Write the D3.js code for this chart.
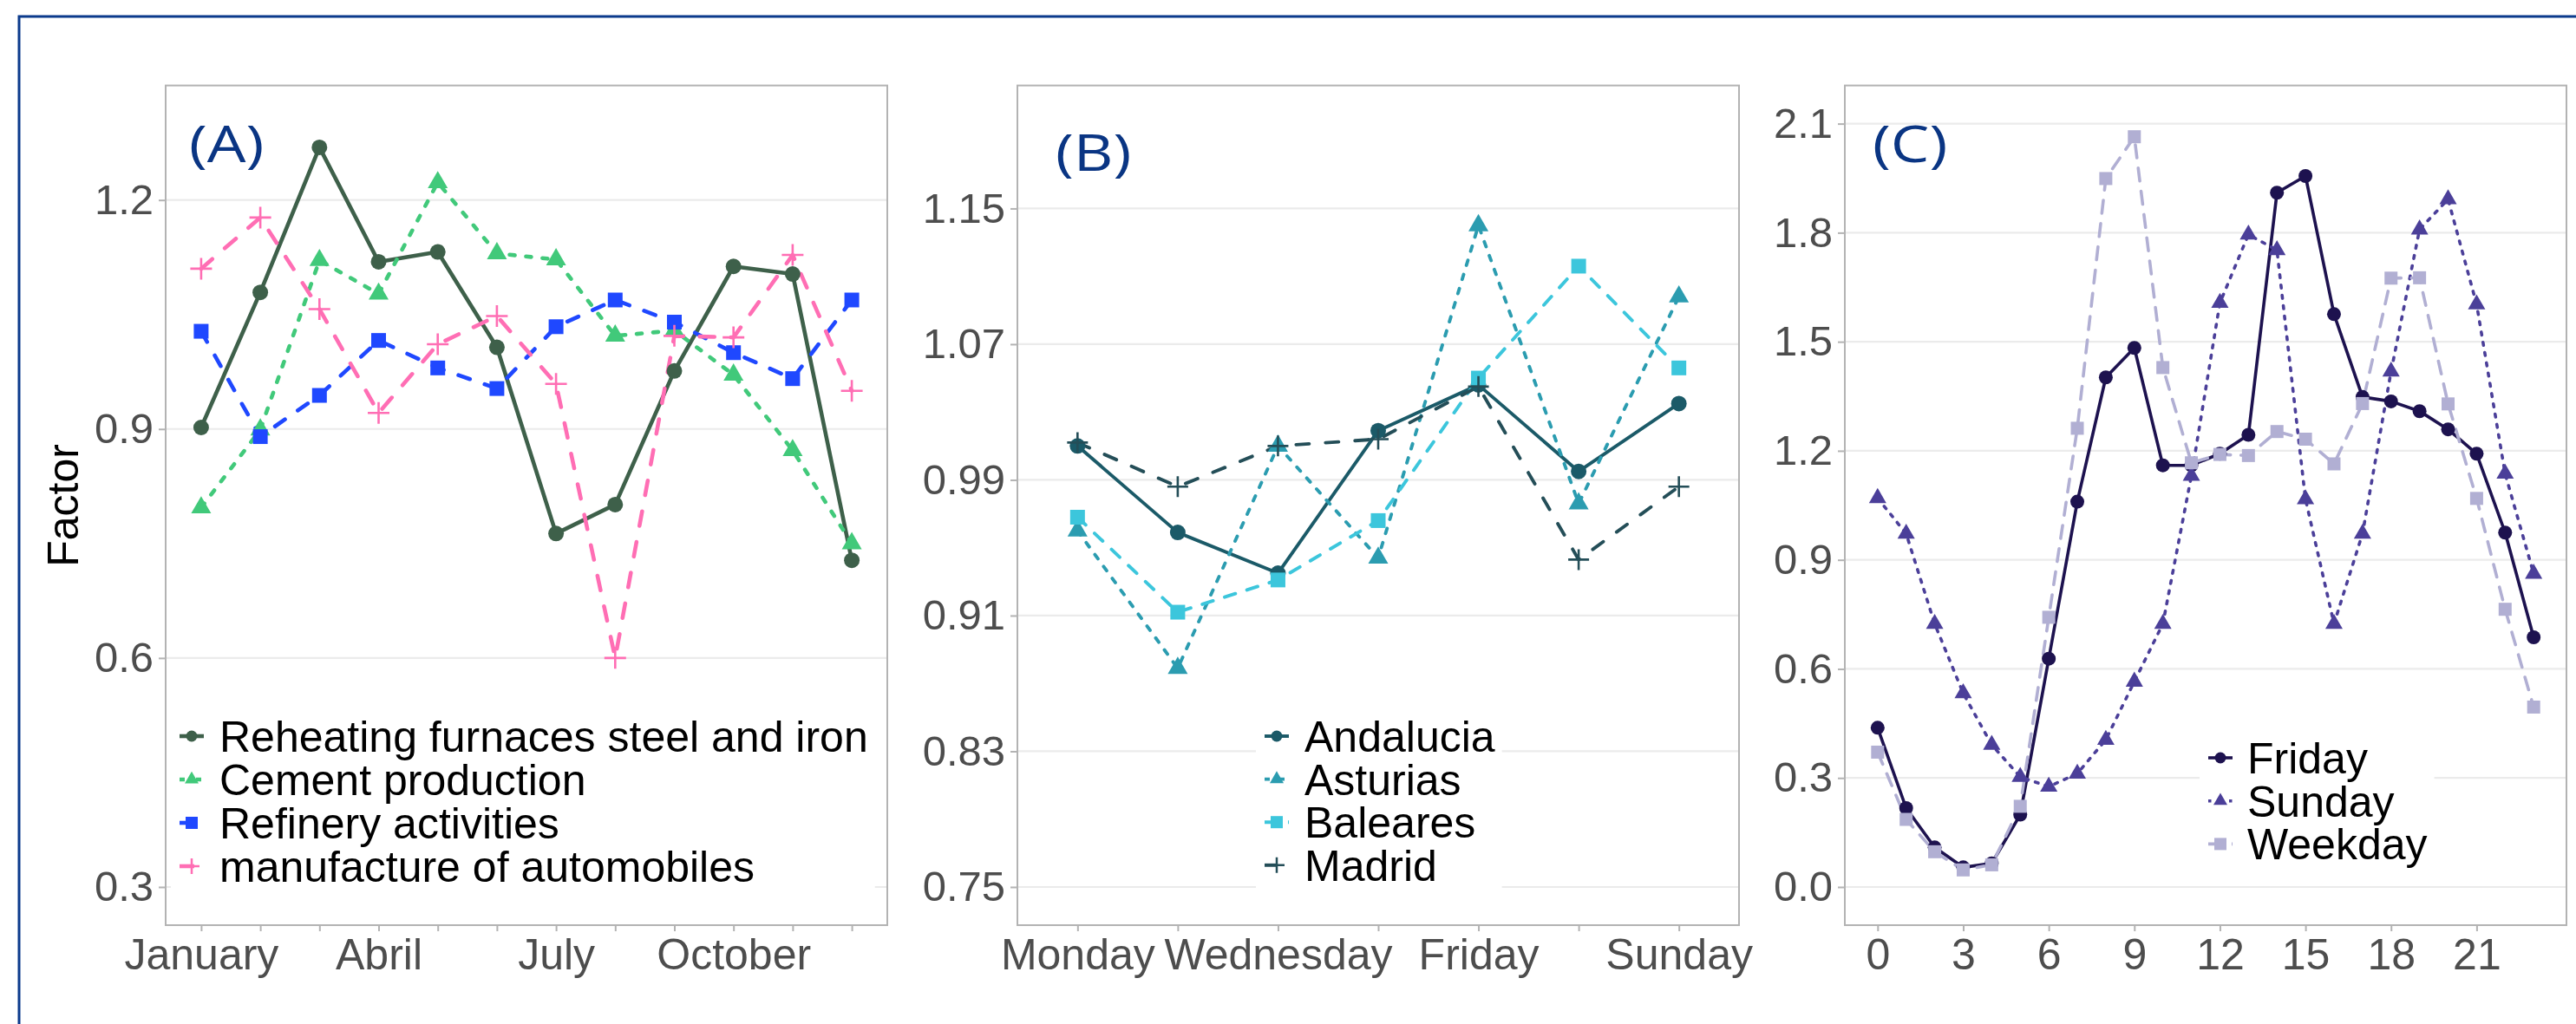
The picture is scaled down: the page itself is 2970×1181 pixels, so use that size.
<!DOCTYPE html>
<html><head><meta charset="utf-8">
<script src="https://cdn.jsdelivr.net/npm/d3@7"></script>
<style>body{margin:0;background:#fff}</style>
</head><body>
<svg id="chart" width="2970" height="1181"></svg>
<script>
// ---------- DATA ----------
const months = ["January","February","March","April","May","June","July","August","September","October","November","December"];
const monthTickLabels = ["January","","","Abril","","","July","","","October","",""];
const reheatingFurnaces = [0.902,1.079,1.269,1.119,1.132,1.007,0.763,0.801,0.976,1.113,1.103,0.728];
const cementProduction = [0.797,0.899,1.121,1.077,1.223,1.130,1.122,1.022,1.029,0.971,0.872,0.750];
const refineryActivities = [1.028,0.890,0.944,1.016,0.980,0.953,1.034,1.069,1.040,1.000,0.966,1.069];
const automobileManufacture = [1.110,1.177,1.057,0.921,1.011,1.048,0.959,0.600,1.022,1.020,1.128,0.950];
const monthlyYTicks = [0.3,0.6,0.9,1.2];

const days = ["Monday","Tuesday","Wednesday","Thursday","Friday","Saturday","Sunday"];
const dayTickLabels = ["Monday","","Wednesday","","Friday","","Sunday"];
const andalucia = [1.010,0.959,0.935,1.019,1.046,0.995,1.035];
const asturias = [0.960,0.879,1.010,0.944,1.140,0.976,1.098];
const baleares = [0.968,0.912,0.931,0.966,1.050,1.116,1.056];
const madrid = [1.012,0.986,1.010,1.014,1.045,0.943,0.986];
const dailyYTicks = [0.75,0.83,0.91,0.99,1.07,1.15];

const hours = [0,1,2,3,4,5,6,7,8,9,10,11,12,13,14,15,16,17,18,19,20,21,22,23];
const hourTicks = [0,3,6,9,12,15,18,21];
const friday = [0.438,0.217,0.109,0.054,0.065,0.199,0.628,1.060,1.402,1.483,1.160,1.160,1.192,1.244,1.910,1.956,1.576,1.348,1.336,1.309,1.259,1.192,0.975,0.687];
const sunday = [1.070,0.972,0.724,0.533,0.391,0.303,0.276,0.312,0.405,0.565,0.724,1.131,1.607,1.795,1.752,1.067,0.724,0.972,1.418,1.809,1.892,1.603,1.137,0.862];
const weekday = [0.371,0.186,0.097,0.047,0.061,0.222,0.742,1.262,1.949,2.064,1.429,1.167,1.190,1.187,1.253,1.232,1.164,1.330,1.675,1.676,1.329,1.069,0.764,0.495];
const hourlyYTicks = [0,0.3,0.6,0.9,1.2,1.5,1.8,2.1];

// ---------- DRAWING ----------
const svg = d3.select("#chart");
svg.append("rect").attr("width",2970).attr("height",1181).attr("fill","#fff");
svg.append("path").attr("d","M22,1181 V19 H2970").attr("fill","none")
  .attr("stroke","#0B3A8C").attr("stroke-width",3);

const FONT = "'Liberation Sans', Arial, Helvetica, sans-serif";

function marker(g, shape, cx, cy, s, color, plusW){
  if (shape==="circle") {
    g.append("circle").attr("cx",cx).attr("cy",cy).attr("r",s).attr("fill",color);
  } else if (shape==="square") {
    g.append("rect").attr("x",cx-s).attr("y",cy-s).attr("width",2*s).attr("height",2*s).attr("fill",color);
  } else if (shape==="triangle") {
    const h = s*Math.sqrt(3);
    g.append("path").attr("d",`M${cx},${cy-h*2/3}L${cx+s},${cy+h/3}L${cx-s},${cy+h/3}Z`).attr("fill",color);
  } else if (shape==="plus") {
    g.append("path").attr("d",`M${cx-s},${cy}H${cx+s}M${cx},${cy-s}V${cy+s}`)
      .attr("stroke",color).attr("stroke-width",plusW||2.5).attr("fill","none");
  }
}

function panel(cfg){
  const g = svg.append("g");
  const {x0,x1,y0,y1} = cfg.box;
  const y = d3.scaleLinear().domain(cfg.yDomain).range([y1,y0]);
  let x, xs;
  if (cfg.categories){
    x = d3.scalePoint().domain(cfg.categories).range([x0,x1]).padding(0.6);
    xs = (i)=>x(cfg.categories[i]);
  } else {
    x = d3.scaleLinear().domain(cfg.xDomain).range([x0,x1]);
    xs = (i)=>x(cfg.xValues[i]);
  }
  // grid
  g.append("g").selectAll("line").data(cfg.yTicks).join("line")
    .attr("x1",x0).attr("x2",x1).attr("y1",d=>y(d)).attr("y2",d=>y(d))
    .attr("stroke","#EBEBEB").attr("stroke-width",2.2);
  // y axis
  const ya = g.append("g").attr("transform",`translate(${x0},0)`)
    .call(d3.axisLeft(y).tickValues(cfg.yTicks).tickFormat(cfg.yFormat).tickSize(8).tickPadding(6));
  ya.select(".domain").remove();
  ya.selectAll("line").attr("stroke","#B3B3B3").attr("stroke-width",2);
  ya.selectAll("text").attr("font-family",FONT).attr("font-size",49).attr("fill","#4D4D4D");
  // x axis
  let xAxis;
  if (cfg.categories){
    xAxis = d3.axisBottom(x).tickValues(cfg.categories).tickFormat((d,i)=>cfg.xTickLabels[i]);
  } else {
    xAxis = d3.axisBottom(x).tickValues(cfg.xTicks).tickFormat(d3.format("d"));
  }
  xAxis.tickSize(7).tickPadding(8);
  const xa = g.append("g").attr("transform",`translate(0,${y1})`).call(xAxis);
  xa.select(".domain").remove();
  xa.selectAll("line").attr("stroke","#B3B3B3").attr("stroke-width",2);
  xa.selectAll("text").attr("font-family",FONT).attr("font-size",50).attr("fill","#4D4D4D");

  // lines
  const line = d3.line().x((d,i)=>xs(i)).y(d=>y(d));
  cfg.series.forEach(s=>{
    g.append("path").attr("d",line(s.values)).attr("fill","none")
      .attr("stroke",s.color).attr("stroke-width",cfg.lw)
      .attr("stroke-dasharray",s.dash||null)
      .attr("stroke-linecap","round").attr("stroke-linejoin","round");
  });
  // points
  cfg.series.forEach(s=>{
    const pg = g.append("g");
    s.values.forEach((v,i)=>marker(pg, s.shape, xs(i), y(v), cfg.msize[s.shape], s.color, cfg.plusW));
  });
  // border
  g.append("rect").attr("x",x0).attr("y",y0).attr("width",x1-x0).attr("height",y1-y0)
    .attr("fill","none").attr("stroke","#B3B3B3").attr("stroke-width",2);

  // legend
  const L = cfg.legend;
  const lg = g.append("g");
  const bg = lg.append("rect").attr("fill","#fff");
  let maxW = 0;
  cfg.series.forEach((s,i)=>{
    const ry = L.y + i*L.dy;
    lg.append("line").attr("x1",L.keyX-14).attr("x2",L.keyX+14).attr("y1",ry).attr("y2",ry)
      .attr("stroke",s.color).attr("stroke-width",cfg.lw)
      .attr("stroke-dasharray",s.dash||null);
    marker(lg, s.shape, L.keyX, ry, cfg.lsize[s.shape], s.color, 2.5);
    const t = lg.append("text").attr("x",L.textX).attr("y",ry+18)
      .attr("font-family",FONT).attr("font-size",50).attr("fill","#000").text(s.name);
    maxW = Math.max(maxW, t.node().getComputedTextLength());
  });
  bg.attr("x",L.keyX-24).attr("y",L.y-28).attr("width",L.textX+maxW+8-(L.keyX-24))
    .attr("height",(cfg.series.length-1)*L.dy+56);

  // panel label
  g.append("text").attr("transform",`translate(${cfg.label.x},${cfg.label.y}) scale(1.22,1)`)
    .attr("font-family","'Open Sans','Noto Sans',sans-serif").attr("font-size",58)
    .attr("fill","#0A3583").text(cfg.label.text);
  return g;
}

// Panel A
panel({
  box:{x0:191,x1:1023,y0:98.6,y1:1067},
  categories: months, xTickLabels: monthTickLabels,
  yDomain:[0.25,1.35], yTicks: monthlyYTicks, yFormat: d3.format(".1f"),
  lw:4.6, plusW:2.6,
  msize:{circle:9,square:8.5,triangle:11.5,plus:12.5},
  lsize:{circle:6.5,square:7,triangle:8,plus:9},
  series:[
    {name:"Reheating furnaces steel and iron", values:reheatingFurnaces, color:"#3E604A", dash:null, shape:"circle"},
    {name:"Cement production", values:cementProduction, color:"#41C97A", dash:"6,13", shape:"triangle"},
    {name:"Refinery activities", values:refineryActivities, color:"#1F48FF", dash:"14,18", shape:"square"},
    {name:"manufacture of automobiles", values:automobileManufacture, color:"#FF6EB4", dash:"17,19", shape:"plus"}
  ],
  legend:{keyX:221, textX:253, y:849, dy:50},
  label:{text:"(A)", x:218, y:187}
});

// Panel B
panel({
  box:{x0:1173,x1:2005,y0:98.6,y1:1067},
  categories: days, xTickLabels: dayTickLabels,
  yDomain:[0.7275,1.2225], yTicks: dailyYTicks, yFormat: d3.format(".2f"),
  lw:3.9, plusW:2.6,
  msize:{circle:9,square:8.5,triangle:11.5,plus:12},
  lsize:{circle:6.5,square:7,triangle:8,plus:9},
  series:[
    {name:"Andalucia", values:andalucia, color:"#1B5A68", dash:null, shape:"circle"},
    {name:"Asturias", values:asturias, color:"#2B9CB0", dash:"6,11", shape:"triangle"},
    {name:"Baleares", values:baleares, color:"#3CC6DC", dash:"13,14", shape:"square"},
    {name:"Madrid", values:madrid, color:"#244E58", dash:"15,19", shape:"plus"}
  ],
  legend:{keyX:1472, textX:1504, y:849, dy:49.6},
  label:{text:"(B)", x:1217, y:197}
});

// Panel C
panel({
  box:{x0:2127,x1:2959,y0:98.6,y1:1067},
  xValues: hours, xDomain:[-1.15,24.15], xTicks: hourTicks,
  yDomain:[-0.105,2.205], yTicks: hourlyYTicks, yFormat: d3.format(".1f"),
  lw:3.6, plusW:2.5,
  msize:{circle:8,square:7.5,triangle:10,plus:10},
  lsize:{circle:6.5,square:7,triangle:8,plus:9},
  series:[
    {name:"Friday", values:friday, color:"#1D124F", dash:null, shape:"circle"},
    {name:"Sunday", values:sunday, color:"#4B3F99", dash:"3.5,8.5", shape:"triangle"},
    {name:"Weekday", values:weekday, color:"#B1AFD3", dash:"15,12", shape:"square"}
  ],
  legend:{keyX:2560, textX:2591, y:874, dy:49.7},
  label:{text:"(C)", x:2159, y:187}
});

// Y axis title
svg.append("text").attr("transform","translate(90,583) rotate(-90)")
  .attr("text-anchor","middle").attr("font-family",FONT).attr("font-size",50)
  .attr("fill","#000").text("Factor");
</script>
</body></html>
